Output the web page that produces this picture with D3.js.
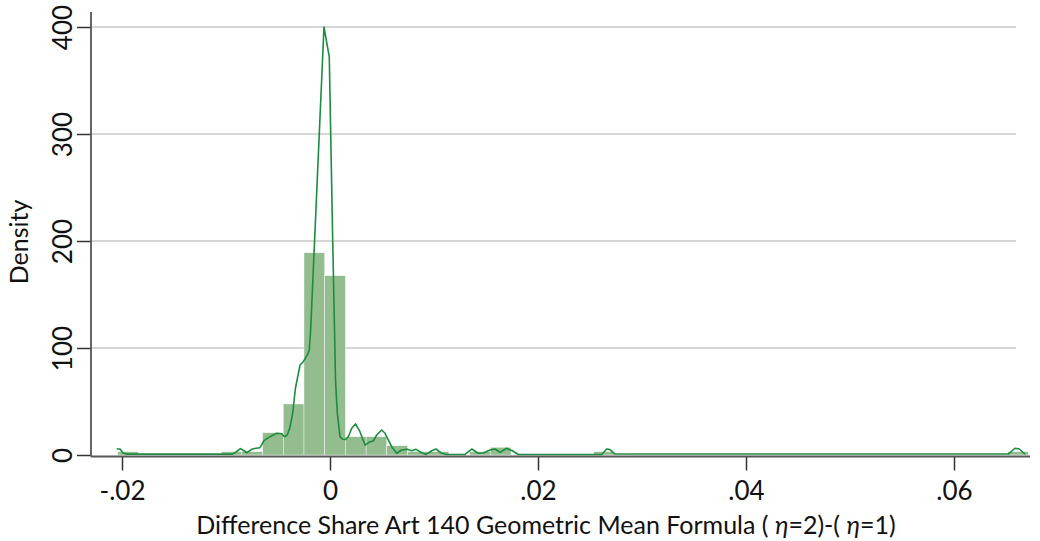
<!DOCTYPE html>
<html><head><meta charset="utf-8">
<script src="https://cdn.jsdelivr.net/npm/d3@7"></script>
<style>body{margin:0;background:#fff}svg{display:block}text{font-family:Lato,"Open Sans",sans-serif;fill:#111}</style>
</head><body>
<script>
// Histogram: bin start, width and densities
const binStart = -0.02041;
const binWidth = 0.00199;
const binDensity = [3.1,0,0,0,0,3.1,3.1,20.8,47.7,189,167.6,17.1,17.1,8.7,3.1,3.1,0,3.1,7.2,0,0,0,0,3.1,0,0,0,0,0,0,0,0,0,0,0,0,0,0,0,0,0,0,0,3.1];
// Kernel density curve (x, density)
const kdeX = [-0.02051,-0.02019,-0.01988,-0.01952,-0.00936,-0.00904,-0.00861,-0.00832,-0.00801,-0.00753,-0.00712,-0.00673,-0.00635,-0.00577,-0.00513,-0.00464,-0.00438,-0.00411,-0.00385,-0.00359,-0.00332,-0.00288,-0.00257,-0.00218,-0.00199,-0.00186,-0.00058,-0.00007,0.00026,0.00053,0.00070,0.00096,0.00122,0.00149,0.00176,0.00209,0.00245,0.00288,0.00337,0.00378,0.00416,0.00449,0.00497,0.00529,0.00593,0.00641,0.00689,0.00743,0.00786,0.00827,0.00882,0.00923,0.00978,0.01019,0.01074,0.01122,0.01298,0.01363,0.01426,0.01474,0.01538,0.01587,0.01635,0.01699,0.01757,0.01811,0.02613,0.02660,0.02692,0.02740,0.06522,0.06587,0.06628,0.06683];
const kdeY = [5.6,5.6,1.6,0.8,0.8,2.8,5.9,4.2,2.1,5.3,6.3,6.8,13.4,17.1,20.3,19.8,17.1,18.7,25.7,39.0,62.6,84.1,87.2,93.5,98.1,116.8,400,372,201,70,39.3,17.1,14.7,14.5,17.1,25.0,29.0,21.8,9.3,12.1,13.1,18.7,23.4,20.3,7.8,1.6,4.7,5.3,4.0,5.3,2.1,0.5,4.0,5.6,1.6,0.5,0.5,5.6,1.6,1.9,4.7,5.6,2.5,6.3,3.7,0.5,0.5,5.6,5.1,0.9,0.9,6.3,5.6,0.7];
const xTicks = [-0.02,0,0.02,0.04,0.06];
const xTickLabels = ["-.02","0",".02",".04",".06"];
const yTicks = [0,100,200,300,400];
const yTickLabels = ["0","100","200","300","400"];
const yTitle = "Density";

const W = 1040, H = 541;
const svg = d3.select("body").append("svg").attr("width", W).attr("height", H);
const x = d3.scaleLinear().domain([0, 0.02]).range([330, 538]);
const y = d3.scaleLinear().domain([0, 400]).range([455, 27]);
const left = 91, right = 1030, axisY = 456.5;

// gridlines
svg.append("g").selectAll("line").data(yTicks.filter(d => d > 0)).join("line")
  .attr("x1", left + 1).attr("x2", 1016)
  .attr("y1", d => y(d)).attr("y2", d => y(d))
  .attr("stroke", "#c9c9c9").attr("stroke-width", 1.5);

// bars
const bins = binDensity.map((d, i) => ({x0: binStart + i * binWidth, x1: binStart + (i + 1) * binWidth, d}));
svg.append("g").selectAll("rect").data(bins.filter(b => b.d > 0)).join("rect")
  .attr("x", b => x(b.x0)).attr("width", b => x(b.x1) - x(b.x0))
  .attr("y", b => y(b.d)).attr("height", b => y(0) - y(b.d))
  .attr("fill", "#93bc8f").attr("stroke", "#ffffff").attr("stroke-width", 0.4);

// kde line
const pts = kdeX.map((v, i) => [v, kdeY[i]]);
svg.append("path").datum(pts)
  .attr("d", d3.line().x(d => x(d[0])).y(d => y(d[1])))
  .attr("fill", "none").attr("stroke", "#1c8c40").attr("stroke-width", 1.6).attr("stroke-linejoin", "round");

// axes
const axisColor = "#555";
const xAxis = d3.axisBottom(x).tickValues(xTicks).tickFormat((d, i) => xTickLabels[i]).tickSize(14).tickSizeOuter(0);
const gx = svg.append("g").attr("transform", `translate(0,${axisY})`).call(xAxis);
gx.select(".domain").remove();
gx.selectAll(".tick line").attr("stroke", "#333").attr("stroke-width", 1.5);
gx.selectAll(".tick text").attr("font-size", 26).attr("dy", 0).attr("y", 43).style("font-family", "Lato").attr("fill", "#111");
svg.append("line").attr("x1", left).attr("x2", right).attr("y1", axisY).attr("y2", axisY)
  .attr("stroke", axisColor).attr("stroke-width", 1.8);

const yAxis = d3.axisLeft(y).tickValues(yTicks).tickFormat((d, i) => yTickLabels[i]).tickSize(14).tickSizeOuter(0);
const gy = svg.append("g").attr("transform", `translate(${left},0)`).call(yAxis);
gy.select(".domain").remove();
gy.selectAll(".tick line").attr("stroke", "#333").attr("stroke-width", 1.5);
gy.selectAll(".tick text").attr("font-size", 26).attr("x", 0).attr("dy", 0)
  .attr("text-anchor", "middle").attr("fill", "#111")
  .attr("transform", "translate(-19,0) rotate(-90)");
svg.append("line").attr("x1", left).attr("x2", left).attr("y1", 12).attr("y2", axisY)
  .attr("stroke", axisColor).attr("stroke-width", 1.8);

// y title
svg.append("text").attr("transform", "translate(28,242) rotate(-90)")
  .attr("text-anchor", "middle").attr("font-size", 25).text(yTitle);

// x title with italic eta
const xt = svg.append("text").attr("x", 546).attr("y", 534).attr("text-anchor", "middle").attr("font-size", 25);
xt.append("tspan").text("Difference Share Art 140 Geometric Mean Formula ( ");
xt.append("tspan").attr("font-style", "italic").text("η");
xt.append("tspan").text("=2)-( ");
xt.append("tspan").attr("font-style", "italic").text("η");
xt.append("tspan").text("=1)");
</script>
</body></html>
